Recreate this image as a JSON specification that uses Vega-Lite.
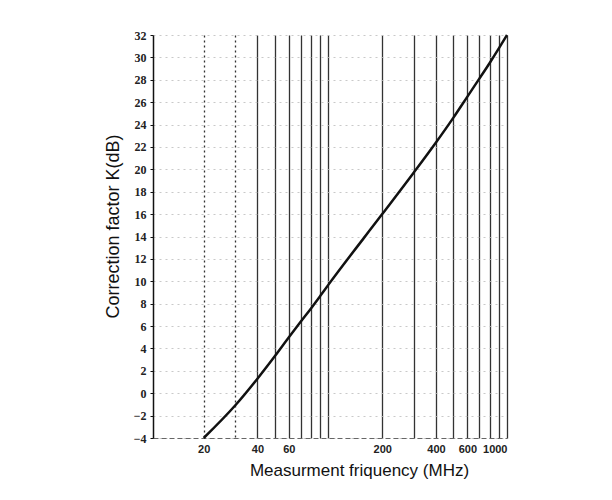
{
  "$schema": "https://vega.github.io/schema/vega-lite/v6.json",
  "width": 354,
  "height": 403,
  "autosize": {"type": "none"},
  "padding": {"left": 153, "top": 35, "right": 105, "bottom": 62},
  "background": "white",
  "config": {
    "view": {"stroke": null},
    "font": "Liberation Sans"
  },
  "data": {
    "values": [
      {"freq": 20, "k": -4.0},
      {"freq": 30, "k": -1.1},
      {"freq": 40, "k": 1.3},
      {"freq": 50, "k": 3.3},
      {"freq": 60, "k": 5.0},
      {"freq": 70, "k": 6.4},
      {"freq": 80, "k": 7.6},
      {"freq": 90, "k": 8.7},
      {"freq": 100, "k": 9.7},
      {"freq": 200, "k": 16.0},
      {"freq": 300, "k": 19.7},
      {"freq": 400, "k": 22.4},
      {"freq": 500, "k": 24.6},
      {"freq": 600, "k": 26.5},
      {"freq": 700, "k": 28.1},
      {"freq": 800, "k": 29.5},
      {"freq": 900, "k": 30.8},
      {"freq": 1000, "k": 32.0}
    ]
  },
  "mark": {"type": "line", "color": "#111", "strokeWidth": 2.5, "interpolate": "monotone"},
  "encoding": {
    "x": {
      "field": "freq",
      "type": "quantitative",
      "scale": {"type": "log", "domain": [10.4, 1000], "nice": false},
      "axis": {
        "title": "Measurment friquency (MHz)",
        "values": [20, 30, 40, 50, 60, 70, 80, 90, 100, 200, 300, 400, 500, 600, 700, 800, 900, 1000],
        "format": "d",
        "labelExpr": "indexof([20,40,60,200,400,600,1000], datum.value) >= 0 ? datum.label : ''",
        "grid": true,
        "gridColor": "#333",
        "gridWidth": 1.3,
        "gridDash": {"condition": {"test": "datum.value == 20 || datum.value == 30", "value": [2, 3]}, "value": []},
        "ticks": false,
        "domain": true,
        "domainColor": "#666",
        "domainDash": [5, 3],
        "labelFontSize": 11,
        "labelFontWeight": "bold",
        "labelColor": "#222",
        "labelPadding": 5,
        "titleFontSize": 17,
        "titleFontWeight": "normal",
        "titleColor": "#111",
        "titlePadding": 8,
        "titleX": 206,
        "titleAlign": "center"
      }
    },
    "y": {
      "field": "k",
      "type": "quantitative",
      "scale": {"domain": [-4, 32], "nice": false},
      "axis": {
        "title": "Correction factor K(dB)",
        "values": [-4, -2, 0, 2, 4, 6, 8, 10, 12, 14, 16, 18, 20, 22, 24, 26, 28, 30, 32],
        "grid": true,
        "gridColor": "#bbb",
        "gridDash": [2, 4],
        "gridWidth": 0.8,
        "domainColor": "#111",
        "domainWidth": 1.5,
        "tickColor": "#111",
        "tickSize": 3,
        "labelFont": "Liberation Sans Narrow",
        "labelFontSize": 12,
        "labelFontWeight": "bold",
        "labelColor": "#222",
        "labelPadding": 4,
        "titleFontSize": 18,
        "titleFontWeight": "normal",
        "titleColor": "#111",
        "titlePadding": 11,
        "titleY": 191
      }
    }
  }
}
